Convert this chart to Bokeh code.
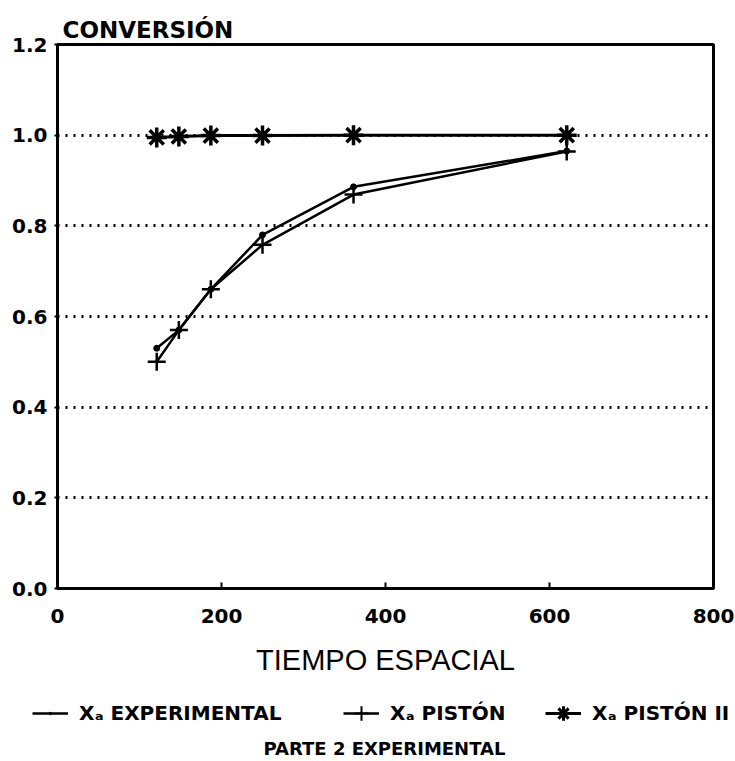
from bokeh.plotting import figure
from bokeh.layouts import column
from bokeh.models import (FixedTicker, NumeralTickFormatter, Legend, LegendItem,
                          Label, Range1d)
from bokeh.embed import file_html
from bokeh.resources import INLINE

# ---- data ----
tiempo = [121, 148, 187, 250, 361, 621]
xa_experimental = [0.53, 0.57, 0.66, 0.78, 0.886, 0.965]
xa_piston = [0.50, 0.57, 0.66, 0.758, 0.869, 0.964]
xa_piston_ii = [0.995, 0.997, 0.999, 0.999, 1.0, 1.0]

series_labels = ["Xₐ EXPERIMENTAL", "Xₐ PISTÓN", "Xₐ PISTÓN II"]
x_ticks = [0, 200, 400, 600, 800]
y_ticks = [0.0, 0.2, 0.4, 0.6, 0.8, 1.0, 1.2]
grid_ticks = [0.2, 0.4, 0.6, 0.8, 1.0]

BOLD = "DejaVu Sans"

p = figure(width=735, height=690,
           min_border_left=57, min_border_right=22,
           min_border_top=44, min_border_bottom=102,
           x_range=Range1d(0, 800), y_range=Range1d(0, 1.2),
           output_backend="svg", toolbar_location=None,
           background_fill_color="white", border_fill_color="white")

p.outline_line_color = "black"
p.outline_line_width = 3

# title (y axis name)
p.title.text = "CONVERSIÓN"
p.title.text_font = BOLD
p.title.text_font_style = "bold"
p.title.text_font_size = "23px"
p.title.text_color = "black"
p.title.offset = 5
p.title.standoff = 4

# axes
xa = p.xaxis[0]
xa.ticker = FixedTicker(ticks=x_ticks)
xa.axis_line_width = 3
xa.major_tick_in = 6
xa.major_tick_out = 0
xa.major_tick_line_width = 2
xa.minor_tick_line_color = None
xa.major_label_text_font = BOLD
xa.major_label_text_font_style = "bold"
xa.major_label_text_font_size = "20px"
xa.major_label_text_color = "black"
xa.major_label_standoff = 20
xa.axis_label = "TIEMPO ESPACIAL"
xa.axis_label_text_font = "Liberation Sans"
xa.axis_label_text_font_style = "normal"
xa.axis_label_text_font_size = "29px"
xa.axis_label_text_color = "black"
xa.axis_label_standoff = 18

ya = p.yaxis[0]
ya.ticker = FixedTicker(ticks=y_ticks)
ya.formatter = NumeralTickFormatter(format="0.0")
ya.axis_line_width = 3
ya.major_tick_in = 0
ya.major_tick_out = 3
ya.major_tick_line_width = 2
ya.minor_tick_line_color = None
ya.major_label_text_font = BOLD
ya.major_label_text_font_style = "bold"
ya.major_label_text_font_size = "20px"
ya.major_label_text_color = "black"
ya.major_label_standoff = 7

p.xgrid.grid_line_color = None
p.ygrid.ticker = FixedTicker(ticks=grid_ticks)
p.ygrid.grid_line_color = "black"
p.ygrid.grid_line_width = 3
p.ygrid.grid_line_dash = "2 6"

# series
line_kw = [dict(line_width=2.5), dict(line_width=2.5), dict(line_width=3)]
marker_kw = [dict(marker="circle", size=6, fill_color="black", line_width=1),
             dict(marker="cross", size=18, line_width=2.5),
             dict(marker="asterisk", size=20, line_width=3.5)]
legend_marker_kw = [dict(marker="dot", size=6, fill_color="black", line_width=4),
                    dict(marker="cross", size=18, line_width=2),
                    dict(marker="asterisk", size=20, line_width=3)]
all_y = [xa_experimental, xa_piston, xa_piston_ii]
for ys, lk, mk in zip(all_y, line_kw, marker_kw):
    p.line(tiempo, ys, line_color="black", **lk)
    p.scatter(tiempo, ys, line_color="black", **mk)

# ---- legend strip below the chart (its own frame, not aligned) ----
q = figure(width=735, height=71, x_range=Range1d(0, 735), y_range=Range1d(100, 171),
           min_border=0, output_backend="svg", toolbar_location=None,
           x_axis_location=None, y_axis_location=None,
           background_fill_color="white", border_fill_color="white")
q.frame_align = False
q.grid.visible = False
q.outline_line_color = None

legend_x = [32, 343, 545]
for lab, ys, lk, mk, lx in zip(series_labels, all_y, line_kw, legend_marker_kw, legend_x):
    # same series, drawn far below this strip's visible range: only the legend glyph shows
    lr = q.line(tiempo, ys, line_color="black", **lk)
    sr = q.scatter(tiempo, ys, line_color="black", **mk)
    lg = Legend(items=[LegendItem(label=lab, renderers=[lr, sr])],
                location=(lx, 26), orientation="horizontal",
                border_line_color=None, background_fill_alpha=0,
                label_text_font=BOLD, label_text_font_style="bold",
                label_text_font_size="20px", label_text_color="black",
                glyph_width=36, glyph_height=44, label_standoff=11,
                padding=0, margin=0)
    q.add_layout(lg, "center")

sub = Label(x=384, y=113, text="PARTE 2 EXPERIMENTAL", text_align="center",
            text_baseline="middle", text_font=BOLD, text_font_style="bold",
            text_font_size="18px", text_color="black")
q.add_layout(sub)

layout = column(p, q, spacing=0)
open("out.html", "w").write(file_html(layout, INLINE))
